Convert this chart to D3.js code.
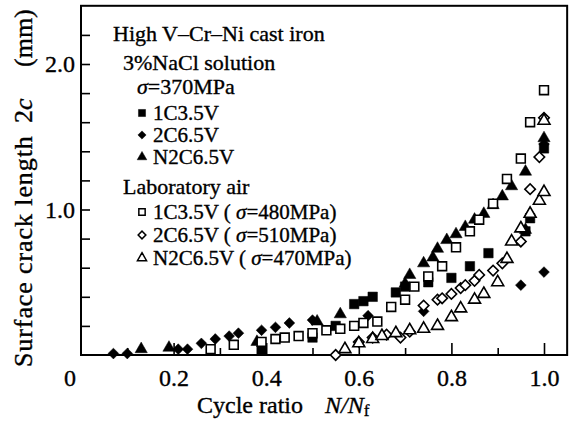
<!DOCTYPE html>
<html>
<head>
<meta charset="utf-8">
<script src="https://cdn.jsdelivr.net/npm/d3@7"></script>
<style>
  body { margin: 0; background: #fff; }
  svg text { font-family: "Liberation Serif", "Times New Roman", serif; fill: #000; stroke: #000; stroke-width: 0.35px; }
</style>
</head>
<body>
<div id="chart"></div>
<script>
var svgWidth = 573;
var svgHeight = 421;

// [cycle ratio N/Nf, surface crack length 2c (mm)]
var naclSquare = [[0.39, 0.03], [0.50, 0.12], [0.55, 0.20], [0.59, 0.35], [0.61, 0.37], [0.63, 0.40],
  [0.68, 0.43], [0.70, 0.47], [0.75, 0.50], [0.80, 0.53], [0.84, 0.61], [0.88, 0.70],
  [0.96, 0.85], [0.97, 0.94], [1.0, 1.42]];
var naclDiamond = [[0.07, 0.01], [0.10, 0.01], [0.21, 0.04], [0.23, 0.04], [0.26, 0.08], [0.29, 0.11],
  [0.32, 0.13], [0.34, 0.15], [0.39, 0.17], [0.42, 0.19], [0.45, 0.22], [0.50, 0.24],
  [0.62, 0.27], [0.74, 0.30], [0.95, 0.48], [1.0, 0.57], [1.0, 1.45]];
var naclTriangle = [[0.13, 0.04], [0.19, 0.05], [0.38, 0.09], [0.51, 0.23], [0.56, 0.28],
  [0.70, 0.49], [0.71, 0.55], [0.74, 0.63], [0.76, 0.67], [0.77, 0.73], [0.79, 0.79],
  [0.81, 0.83], [0.83, 0.88], [0.85, 0.93], [0.87, 0.97], [0.89, 1.03], [0.91, 1.09],
  [0.93, 1.16], [0.96, 1.26], [0.96, 0.86], [0.97, 0.97], [1.0, 1.49]];
var airSquare = [[0.28, 0.04], [0.33, 0.07], [0.39, 0.09], [0.42, 0.11], [0.44, 0.12], [0.47, 0.13],
  [0.50, 0.15], [0.53, 0.17], [0.56, 0.18], [0.59, 0.20], [0.61, 0.22], [0.64, 0.23],
  [0.67, 0.33], [0.70, 0.38], [0.72, 0.47], [0.75, 0.54], [0.78, 0.61], [0.81, 0.74],
  [0.84, 0.85], [0.86, 0.93], [0.89, 1.04], [0.92, 1.21], [0.95, 1.35], [0.97, 1.60], [1.0, 1.82]];
var airDiamond = [[0.55, 0.00], [0.60, 0.09], [0.63, 0.12], [0.66, 0.14], [0.69, 0.12], [0.71, 0.16],
  [0.74, 0.34], [0.77, 0.38], [0.78, 0.39], [0.80, 0.42], [0.82, 0.46], [0.83, 0.48],
  [0.85, 0.51], [0.86, 0.55], [0.89, 0.58], [0.91, 0.63], [0.95, 0.78], [0.97, 1.14],
  [0.99, 1.36], [1.0, 1.63]];
var airTriangle = [[0.57, 0.04], [0.60, 0.08], [0.63, 0.11], [0.65, 0.13], [0.68, 0.15], [0.71, 0.17],
  [0.74, 0.18], [0.77, 0.20], [0.80, 0.26], [0.82, 0.32], [0.85, 0.38], [0.87, 0.42],
  [0.90, 0.50], [0.92, 0.66], [0.93, 0.78], [0.95, 0.87], [0.97, 0.97], [0.99, 1.06],
  [1.0, 1.12], [1.0, 1.61]];

var xMajorTicks = [0.2, 0.4, 0.6, 0.8, 1.0];
var xMinorTicks = [0.1, 0.3, 0.5, 0.7, 0.9];
var yTicks = [0.2, 0.4, 0.6, 0.8, 1.0, 1.2, 1.4, 1.6, 1.8, 2.0, 2.2];
var yLabelled = [1.0, 2.0];

var svg = d3.select("#chart")
  .append("svg")
  .attr("width", svgWidth)
  .attr("height", svgHeight);

var xScale = d3.scaleLinear().domain([0, 1]).range([81, 544]);
var yScale = d3.scaleLinear().domain([0, 2]).range([355, 64]);

// plot frame
svg.append("rect")
  .attr("x", xScale(0))
  .attr("y", yScale(2.4))
  .attr("width", xScale(1.05) - xScale(0))
  .attr("height", yScale(0) - yScale(2.4))
  .attr("fill", "none")
  .attr("stroke", "#000")
  .attr("stroke-width", 2);

// bottom axis: long ticks with labels, short minor ticks
var xAxisMajor = svg.append("g")
  .attr("transform", `translate(0, ${yScale(0)})`)
  .call(d3.axisBottom(xScale).tickValues(xMajorTicks).tickSize(-12).tickFormat(d3.format(".1f")));
svg.append("g")
  .attr("transform", `translate(0, ${yScale(0)})`)
  .call(d3.axisBottom(xScale).tickValues(xMinorTicks).tickSize(-7).tickFormat(""));

var yAxis = svg.append("g")
  .attr("transform", `translate(${xScale(0)}, 0)`)
  .call(d3.axisLeft(yScale).tickValues(yTicks).tickSize(-9).tickPadding(6)
    .tickFormat(d => yLabelled.includes(d) ? d3.format(".1f")(d) : ""));

svg.selectAll(".domain").remove();
svg.selectAll(".tick line").attr("stroke", "#000").attr("stroke-width", 1.6);
xAxisMajor.selectAll("text").attr("y", 31).attr("dy", null);
svg.selectAll(".tick text").style("font-size", "24px").attr("font-family", null);

svg.append("text")
  .attr("x", 70)
  .attr("y", 386)
  .attr("text-anchor", "middle")
  .style("font-size", "24px")
  .text("0");

// axis titles
var xTitle = svg.append("text")
  .attr("x", 197)
  .attr("y", 413)
  .style("font-size", "24px");
xTitle.append("tspan").text("Cycle ratio");
xTitle.append("tspan").attr("x", 325).style("font-style", "italic").text("N/N");
xTitle.append("tspan").attr("dy", 3).style("font-size", "17px").text("f");

var yTitle = svg.append("text")
  .attr("transform", "translate(32, 367) rotate(-90)")
  .style("font-size", "26px");
yTitle.append("tspan").style("letter-spacing", "0.9px").text("Surface crack length");
yTitle.append("tspan").attr("x", 244).text("2");
yTitle.append("tspan").style("font-style", "italic").text("c");
yTitle.append("tspan").attr("x", 300).text("(mm)");

// markers
function symbolPath(kind, size) {
  if (kind === "triangle") return d3.symbol().type(d3.symbolTriangle).size(size)();
  return d3.symbol().type(d3.symbolSquare).size(size)();
}

function drawSeries(data, kind, filled, size) {
  svg.append("g")
    .selectAll("path")
    .data(data)
    .enter()
    .append("path")
    .attr("d", symbolPath(kind, size))
    .attr("transform", d => `translate(${xScale(d[0])}, ${yScale(d[1])})` + (kind === "diamond" ? " rotate(45)" : ""))
    .attr("fill", filled ? "#000" : "#fff")
    .attr("stroke", "#000")
    .attr("stroke-width", filled ? 0.5 : 1.6);
}

drawSeries(naclDiamond, "diamond", true, 58);
drawSeries(naclSquare, "square", true, 90);
drawSeries(naclTriangle, "triangle", true, 65);
drawSeries(airDiamond, "diamond", false, 55);
drawSeries(airSquare, "square", false, 78);
drawSeries(airTriangle, "triangle", false, 62);

// legend
var legendHeads = [
  { x: 113, y: 41, text: "High V\u2013Cr\u2013Ni cast iron" },
  { x: 123, y: 70, text: "3%NaCl solution" },
  { x: 123, y: 194, text: "Laboratory air" }
];
legendHeads.forEach(function(h) {
  svg.append("text").attr("x", h.x).attr("y", h.y).style("font-size", "22px").text(h.text);
});

var sigma = svg.append("text").attr("x", 137).attr("y", 94).style("font-size", "22px");
sigma.append("tspan").style("font-style", "italic").text("\u03c3");
sigma.append("tspan").text("=370MPa");

var legendItems = [
  { kind: "square", filled: true, size: 50, y: 120, name: "1C3.5V", stress: null },
  { kind: "diamond", filled: true, size: 34, y: 142, name: "2C6.5V", stress: null },
  { kind: "triangle", filled: true, size: 40, y: 164, name: "N2C6.5V", stress: null },
  { kind: "square", filled: false, size: 40, y: 219, name: "1C3.5V", stress: "480" },
  { kind: "diamond", filled: false, size: 30, y: 242, name: "2C6.5V", stress: "510" },
  { kind: "triangle", filled: false, size: 36, y: 265, name: "N2C6.5V", stress: "470" }
];
legendItems.forEach(function(item) {
  svg.append("path")
    .attr("d", symbolPath(item.kind, item.size))
    .attr("transform", `translate(142, ${item.y - 7})` + (item.kind === "diamond" ? " rotate(45)" : ""))
    .attr("fill", item.filled ? "#000" : "#fff")
    .attr("stroke", "#000")
    .attr("stroke-width", item.filled ? 0.5 : 1.5);
  var t = svg.append("text").attr("x", 153).attr("y", item.y).style("font-size", "21px");
  t.append("tspan").text(item.name);
  if (item.stress) {
    t.append("tspan").text(" ( ");
    t.append("tspan").style("font-style", "italic").text("\u03c3");
    t.append("tspan").text("=" + item.stress + "MPa)");
  }
});
</script>
</body>
</html>
